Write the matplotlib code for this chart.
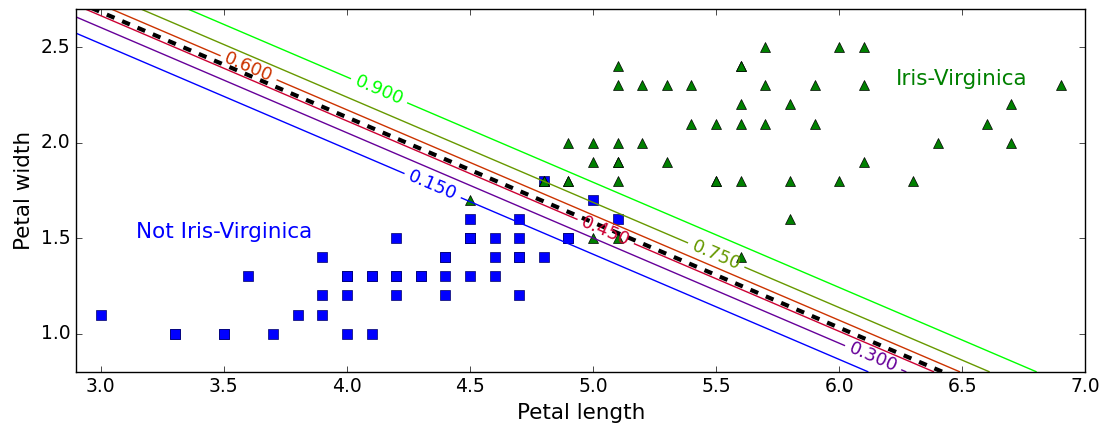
import numpy as np
import matplotlib
matplotlib.use("Agg")
import matplotlib.pyplot as plt

# petal length / width, Iris-Versicolor (plotted as "Not Iris-Virginica")
not_virg_length = [4.7, 4.5, 4.9, 4.0, 4.6, 4.5, 4.7, 3.3, 4.6, 3.9, 3.5, 4.2, 4.0, 4.7, 3.6,
                   4.4, 4.5, 4.1, 4.5, 3.9, 4.8, 4.0, 4.9, 4.7, 4.3, 4.4, 4.8, 5.0, 4.5, 3.5,
                   3.8, 3.7, 3.9, 5.1, 4.5, 4.5, 4.7, 4.4, 4.1, 4.0, 4.4, 4.6, 4.0, 3.3, 4.2,
                   4.2, 4.2, 4.3, 3.0, 4.1]
not_virg_width = [1.4, 1.5, 1.5, 1.3, 1.5, 1.3, 1.6, 1.0, 1.3, 1.4, 1.0, 1.5, 1.0, 1.4, 1.3,
                  1.4, 1.5, 1.0, 1.5, 1.1, 1.8, 1.3, 1.5, 1.2, 1.3, 1.4, 1.4, 1.7, 1.5, 1.0,
                  1.1, 1.0, 1.2, 1.6, 1.5, 1.6, 1.5, 1.3, 1.3, 1.3, 1.2, 1.4, 1.2, 1.0, 1.3,
                  1.2, 1.3, 1.3, 1.1, 1.3]

# Iris-Virginica
virg_length = [6.0, 5.1, 5.9, 5.6, 5.8, 6.6, 4.5, 6.3, 5.8, 6.1, 5.1, 5.3, 5.5, 5.0, 5.1,
               5.3, 5.5, 6.7, 6.9, 5.0, 5.7, 4.9, 6.7, 4.9, 5.7, 6.0, 4.8, 4.9, 5.6, 5.8,
               6.1, 6.4, 5.6, 5.1, 5.6, 6.1, 5.6, 5.5, 4.8, 5.4, 5.6, 5.1, 5.1, 5.9, 5.7,
               5.2, 5.0, 5.2, 5.4, 5.1]
virg_width = [2.5, 1.9, 2.1, 1.8, 2.2, 2.1, 1.7, 1.8, 1.8, 2.5, 2.0, 1.9, 2.1, 2.0, 2.4,
              2.3, 1.8, 2.2, 2.3, 1.5, 2.3, 2.0, 2.0, 1.8, 2.1, 1.8, 1.8, 1.8, 2.1, 1.6,
              1.9, 2.0, 2.2, 1.5, 1.4, 2.3, 2.4, 1.8, 1.8, 2.1, 2.4, 2.3, 1.9, 2.3, 2.5,
              2.3, 1.9, 2.0, 2.3, 1.8]

# logistic regression model
coef_length = 5.75
coef_width = 10.44
intercept = -45.27
prob_levels = [0.15, 0.3, 0.45, 0.6, 0.75, 0.9]

plt.style.use("classic")
fig = plt.figure(figsize=(11.04, 4.26), dpi=100, facecolor="white")
ax = fig.add_subplot(111)
fig.subplots_adjust(left=0.069, right=0.983, top=0.979, bottom=0.127)

x0, x1 = np.meshgrid(np.linspace(2.9, 7, 500), np.linspace(0.8, 2.7, 200))
zz = 1 / (1 + np.exp(-(coef_length * x0 + coef_width * x1 + intercept)))

plt.plot(not_virg_length, not_virg_width, "bs", markersize=7.5, markeredgecolor="#000066")
plt.plot(virg_length, virg_width, "g^", markersize=7, markeredgecolor="k")

contour = plt.contour(x0, x1, zz, levels=prob_levels, cmap=plt.cm.brg)
# where the labels sit, roughly as in the picture
label_spots = [(4.35, 1.78), (6.14, 0.88), (5.05, 1.53), (3.6, 2.39), (5.5, 1.41), (4.13, 2.27)]
plt.clabel(contour, inline=1, fontsize=13, fmt="%1.3f", manual=label_spots)

left_right = np.array([2.9, 7])
boundary = -(coef_length * left_right + intercept) / coef_width
plt.plot(left_right, boundary, "k--", linewidth=3, dashes=(6, 6))

plt.text(3.5, 1.5, "Not Iris-Virginica", fontsize=15.5, color="b", ha="center")
plt.text(6.5, 2.3, "Iris-Virginica", fontsize=15.5, color="g", ha="center")
plt.xlabel("Petal length", fontsize=15.5)
plt.ylabel("Petal width", fontsize=15.5)
plt.xticks(fontsize=13.5)
plt.yticks(fontsize=13.5)
plt.axis([2.9, 7, 0.8, 2.7])

plt.savefig("out.png", dpi=100, facecolor="white")
